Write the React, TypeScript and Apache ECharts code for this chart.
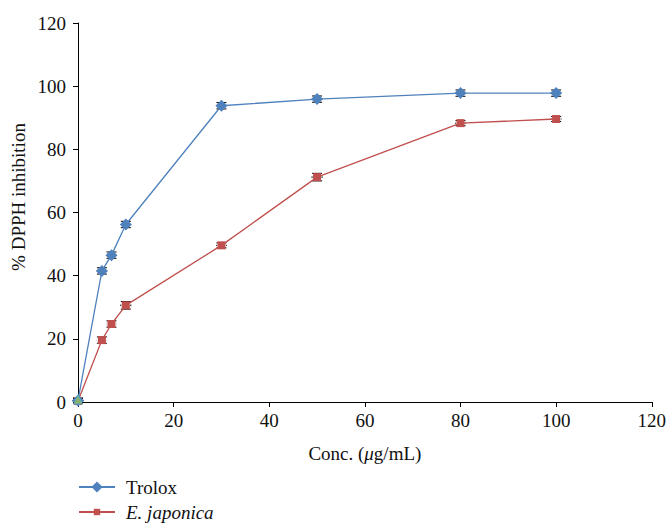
import React, { useEffect, useRef } from "react";
import * as echarts from "echarts";

const conc = [0, 5, 7, 10, 30, 50, 80, 100];
const trolox = [0.5, 41.5, 46.5, 56.2, 93.8, 95.9, 97.8, 97.8];
const japonica = [0.3, 19.6, 24.7, 30.6, 49.6, 71.2, 88.3, 89.6];
const errTrolox = [0.8, 1.0, 1.0, 1.0, 1.0, 1.0, 1.0, 1.0];
const errJaponica = [0.8, 1.0, 1.0, 1.2, 0.8, 1.2, 0.8, 0.8];
const xTicks = [0, 20, 40, 60, 80, 100, 120];
const yTicks = [0, 20, 40, 60, 80, 100, 120];

const FONT = "'Liberation Serif', 'DejaVu Serif', serif";
const FS = 19;

function errorSeries(name: string, vals: number[], errs: number[]) {
  const data = conc.map((c, i) => [c, vals[i], vals[i] - errs[i], vals[i] + errs[i]]);
  return {
    type: "custom",
    name: name + "-err",
    z: 5,
    renderItem: (params: any, api: any) => {
      const x = api.value(0);
      const lo = api.coord([x, api.value(2)]);
      const hi = api.coord([x, api.value(3)]);
      const w = 5;
      const style = { stroke: "#000", lineWidth: 1 };
      return {
        type: "group",
        children: [
          { type: "line", shape: { x1: lo[0], y1: lo[1], x2: hi[0], y2: hi[1] }, style },
          { type: "line", shape: { x1: lo[0] - w, y1: lo[1], x2: lo[0] + w, y2: lo[1] }, style },
          { type: "line", shape: { x1: hi[0] - w, y1: hi[1], x2: hi[0] + w, y2: hi[1] }, style },
          { type: "line", shape: { x1: lo[0] - w, y1: lo[1] - 3, x2: lo[0] - w, y2: hi[1] + 3 }, style },
          { type: "line", shape: { x1: lo[0] + w, y1: lo[1] - 3, x2: lo[0] + w, y2: hi[1] + 3 }, style },
        ],
      };
    },
    data,
    encode: { x: 0, y: [1, 2, 3] },
    silent: true,
  };
}

const legendText = { fontFamily: FONT, fontSize: FS, color: "#111", lineHeight: 20, padding: [0, 0, 0, 6] };

export default function App() {
  const ref = useRef<HTMLDivElement>(null);
  useEffect(() => {
    if (!ref.current) return;
    const chart = echarts.init(ref.current, undefined, { renderer: "svg" });
    chart.setOption({
      animation: false,
      backgroundColor: "#fff",
      textStyle: { fontFamily: FONT },
      grid: { left: 78, right: 16, top: 23, bottom: 121, containLabel: false },
      legend: [
        {
          orient: "horizontal",
          left: 78,
          top: 477,
          padding: 0,
          itemWidth: 36,
          itemHeight: 14,
          data: ["Trolox"],
          textStyle: legendText,
          selectedMode: false,
        },
        {
          orient: "horizontal",
          left: 78,
          top: 502,
          padding: 0,
          itemWidth: 36,
          itemHeight: 8,
          data: ["E. japonica"],
          formatter: () => "{i|E. japonica}",
          textStyle: {
            ...legendText,
            rich: { i: { fontStyle: "italic", fontFamily: FONT, fontSize: FS, color: "#111", lineHeight: 20 } },
          },
          selectedMode: false,
        },
      ],
      graphic: [
        {
          type: "text",
          x: 18,
          y: 197,
          rotation: Math.PI / 2,
          style: {
            text: "% DPPH inhibition",
            fontFamily: FONT,
            fontSize: FS,
            fill: "#111",
            align: "center",
            verticalAlign: "middle",
          },
        },
      ],
      xAxis: {
        type: "value",
        min: 0,
        max: 120,
        interval: 20,
        name: "Conc. ({i|μ}g/mL)",
        nameLocation: "middle",
        nameGap: 42,
        nameTextStyle: {
          fontFamily: FONT,
          fontSize: FS,
          color: "#111",
          rich: { i: { fontStyle: "italic", fontFamily: FONT, fontSize: FS, color: "#111" } },
        },
        axisLine: { lineStyle: { color: "#000", width: 1 } },
        axisTick: { show: true, length: 5, lineStyle: { color: "#000" } },
        axisLabel: {
          fontFamily: FONT,
          fontSize: FS,
          color: "#111",
          margin: 9,
          formatter: (v: number) => (xTicks.includes(v) ? String(v) : ""),
        },
        splitLine: { show: false },
      },
      yAxis: {
        type: "value",
        min: 0,
        max: 120,
        interval: 20,
        axisLine: { show: true, lineStyle: { color: "#000", width: 1 } },
        axisTick: { show: true, length: 5, lineStyle: { color: "#000" } },
        axisLabel: {
          fontFamily: FONT,
          fontSize: FS,
          color: "#111",
          margin: 12,
          formatter: (v: number) => (yTicks.includes(v) ? String(v) : ""),
        },
        splitLine: { show: false },
      },
      series: [
        errorSeries("Trolox", trolox, errTrolox),
        errorSeries("E. japonica", japonica, errJaponica),
        {
          name: "E. japonica",
          type: "line",
          data: conc.map((c, i) => [c, japonica[i]]),
          symbol: "rect",
          symbolSize: 8,
          itemStyle: { color: "#c0504d" },
          lineStyle: { color: "#c0504d", width: 1.3 },
          z: 6,
        },
        {
          name: "Trolox",
          type: "line",
          data: conc.map((c, i) => [c, trolox[i]]),
          symbol: "diamond",
          symbolSize: 12,
          itemStyle: { color: "#4f81bd" },
          lineStyle: { color: "#4f81bd", width: 1.3 },
          z: 7,
        },
        {
          name: "origin",
          type: "scatter",
          data: [[0, 0.8]],
          symbol: "triangle",
          symbolSize: 9,
          itemStyle: { color: "#9bbb59", borderColor: "#4bacc6", borderWidth: 1 },
          z: 8,
        },
      ],
    });
    return () => chart.dispose();
  }, []);
  return (
    <div
      ref={ref}
      style={{ position: "fixed", left: 0, top: 0, width: 669, height: 523, overflow: "hidden" }}
    />
  );
}
